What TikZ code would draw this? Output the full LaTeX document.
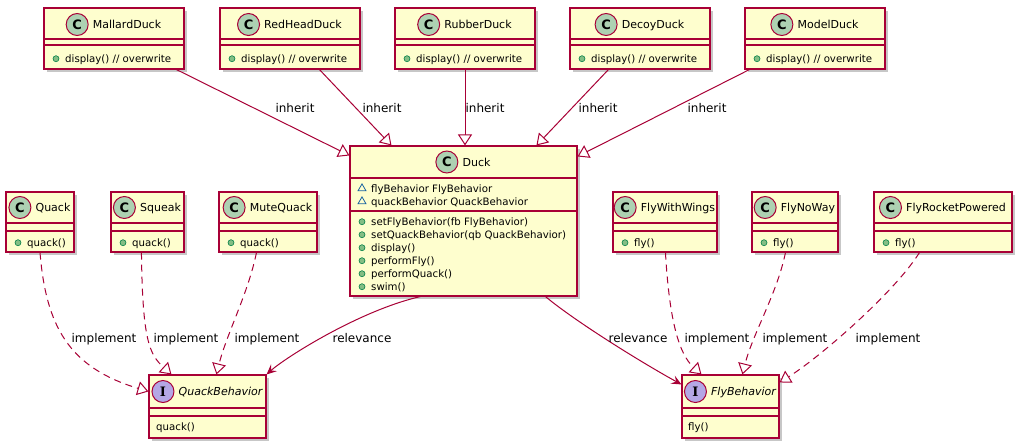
\documentclass[tikz,border=0pt]{standalone}
\usepackage{fontspec}
\setmainfont{DejaVu Sans}
\newfontfamily\serifbf{DejaVu Serif}
\usetikzlibrary{arrows.meta,shadows,fit,calc,shapes.geometric}
\definecolor{umlborder}{HTML}{A80036}
\definecolor{umlfill}{HTML}{FEFECE}
\definecolor{circc}{HTML}{ADD1B2}
\definecolor{circi}{HTML}{B4A7E5}
\definecolor{pubfill}{HTML}{84BE84}
\definecolor{pubborder}{HTML}{038048}
\definecolor{pkgblue}{HTML}{1963A0}
\tikzset{
 cls/.style={draw=umlborder, fill=umlfill, line width=1.1pt, inner sep=0pt,
   drop shadow={shadow xshift=3pt, shadow yshift=-3pt, opacity=0.22, fill=black}},
 sepline/.style={draw=umlborder, line width=1.1pt},
 cname/.style={font=\fontsize{11}{13}\selectfont, inner sep=0pt, anchor=base},
 iname/.style={font=\fontsize{11}{13}\selectfont\itshape, inner sep=0pt, anchor=base},
 circC/.style={circle, draw=umlborder, fill=circc, line width=1pt, minimum size=22pt,
   inner sep=0pt, font=\fontsize{13}{13}\selectfont\bfseries},
 circI/.style={circle, draw=umlborder, fill=circi, line width=1pt, minimum size=22pt,
   inner sep=0pt, font=\serifbf\fontsize{13}{13}\selectfont\bfseries},
 member/.style={font=\fontsize{10.2}{12}\selectfont, inner sep=0pt, anchor=base west},
 pub/.style={circle, draw=pubborder, fill=pubfill, line width=0.6pt, minimum size=6pt, inner sep=0pt},
 pkg/.style={regular polygon, regular polygon sides=3, draw=pkgblue, line width=0.8pt,
   minimum size=9pt, inner sep=0pt},
 lbl/.style={font=\fontsize{12}{14}\selectfont, inner sep=0pt, anchor=base},
 edgeline/.style={draw=umlborder, line width=1pt},
 inh/.style={edgeline, -{Triangle[open, length=11pt, width=14pt, fill=white]}},
 impl/.style={inh, dash pattern=on 7pt off 5pt},
 rel/.style={edgeline, -{Stealth[length=10pt, width=9pt, inset=4pt]}},
}
% class box: name, left, top, right, bottom, sep1, sep2
\newcommand\ucls[7]{%
  \node[cls, fit={(#2,#3) (#4,#5)}] (#1) {};
  \draw[sepline] (#2,#6) -- (#4,#6);
  \draw[sepline] (#2,#7) -- (#4,#7);
}
% header: name, box centre x, header centre y, circle style, letter, title style, title
\newcommand\uhead[7]{%
  \node[#6] (#1-t) at (#2+13,#3+4) {#7};
  \coordinate (#1-cy) at (0,#3);
  \coordinate (#1-tw) at ([xshift=-4pt]#1-t.west);
  \node[#4, anchor=east] (#1-c) at (#1-tw |- #1-cy) {#5};
}
\newcommand\umem[4]{%
  \node[pub] (#1-b) at (#2+12,#3-3.3) {};
  \node[member] (#1) at (#2+21,#3) {#4};
}
\newcommand\ufld[4]{%
  \node[pkg] (#1-b) at (#2+12,#3-3.6) {};
  \node[member] (#1) at (#2+21,#3) {#4};
}
\begin{document}
\begin{tikzpicture}[x=1pt, y=-1pt]
\fill[white] (0,0) rectangle (1019,445);
\useasboundingbox (0,0) rectangle (1019,445);

% top row
\ucls{mallard}{44}{8}{184}{69}{39}{45}
\uhead{mallard}{114}{24.5}{circC}{C}{cname}{MallardDuck}
\umem{mallard-m1}{44}{62}{display() // overwrite}

\ucls{redhead}{220}{8}{360}{69}{39}{45}
\uhead{redhead}{290}{24.5}{circC}{C}{cname}{RedHeadDuck}
\umem{redhead-m1}{220}{62}{display() // overwrite}

\ucls{rubber}{395}{8}{535}{69}{39}{45}
\uhead{rubber}{465}{24.5}{circC}{C}{cname}{RubberDuck}
\umem{rubber-m1}{395}{62}{display() // overwrite}

\ucls{decoy}{570}{8}{710}{69}{39}{45}
\uhead{decoy}{640}{24.5}{circC}{C}{cname}{DecoyDuck}
\umem{decoy-m1}{570}{62}{display() // overwrite}

\ucls{model}{745}{8}{885}{69}{39}{45}
\uhead{model}{815}{24.5}{circC}{C}{cname}{ModelDuck}
\umem{model-m1}{745}{62}{display() // overwrite}

% Duck
\ucls{duck}{350}{146}{577}{296}{178}{211}
\uhead{duck}{463.5}{162}{circC}{C}{cname}{Duck}
\ufld{duck-f1}{350}{192}{flyBehavior FlyBehavior}
\ufld{duck-f2}{350}{205}{quackBehavior QuackBehavior}
\umem{duck-m1}{350}{225}{setFlyBehavior(fb FlyBehavior)}
\umem{duck-m2}{350}{238}{setQuackBehavior(qb QuackBehavior)}
\umem{duck-m3}{350}{251}{display()}
\umem{duck-m4}{350}{264}{performFly()}
\umem{duck-m5}{350}{277}{performQuack()}
\umem{duck-m6}{350}{290}{swim()}

% second row
\ucls{quack}{6}{192}{74}{252}{223}{231}
\uhead{quack}{40}{207.5}{circC}{C}{cname}{Quack}
\umem{quack-m1}{6}{246}{quack()}

\ucls{squeak}{111}{192}{184}{252}{223}{231}
\uhead{squeak}{147.5}{207.5}{circC}{C}{cname}{Squeak}
\umem{squeak-m1}{111}{246}{quack()}

\ucls{mute}{219}{192}{317}{252}{223}{231}
\uhead{mute}{268}{207.5}{circC}{C}{cname}{MuteQuack}
\umem{mute-m1}{219}{246}{quack()}

\ucls{fww}{613}{192}{717}{252}{223}{231}
\uhead{fww}{665}{207.5}{circC}{C}{cname}{FlyWithWings}
\umem{fww-m1}{613}{246}{fly()}

\ucls{fnw}{752}{192}{838}{252}{223}{231}
\uhead{fnw}{795}{207.5}{circC}{C}{cname}{FlyNoWay}
\umem{fnw-m1}{752}{246}{fly()}

\ucls{frp}{874}{192}{1012}{252}{223}{231}
\uhead{frp}{943}{207.5}{circC}{C}{cname}{FlyRocketPowered}
\umem{frp-m1}{874}{246}{fly()}

% interfaces
\ucls{qb}{149}{375}{266}{438}{408}{416}
\uhead{qb}{207.5}{391.5}{circI}{I}{iname}{QuackBehavior}
\node[member] (qb-m1) at (156,430) {quack()};

\ucls{fb}{682}{375}{779}{438}{408}{416}
\uhead{fb}{730.5}{391.5}{circI}{I}{iname}{FlyBehavior}
\node[member] (fb-m1) at (688,430) {fly()};

% inheritance
\draw[inh] ([xshift=133pt]mallard.south west) -- ([yshift=-10pt]duck.north west);
\draw[inh] ([xshift=100pt]redhead.south west) -- ([xshift=42pt]duck.north west);
\draw[inh] (rubber.south) -- (rubber.south |- duck.north);
\draw[inh] ([xshift=39pt]decoy.south west) -- ([xshift=187pt]duck.north west);
\draw[inh] ([xshift=5pt]model.south west) -- ([yshift=-11pt]duck.north east);

% implementations
\draw[impl] (quack.south) .. controls +(6,73) and +(-80,-24) .. ([yshift=-17pt]qb.north west);
\draw[impl] ([xshift=31pt]squeak.south west) .. controls +(1,88) and +(-22,-20) .. ([xshift=23pt]qb.north west);
\draw[impl] ([xshift=38pt]mute.south west) .. controls +(-8,40) and +(10,-40) .. ([xshift=68pt]qb.north west);
\draw[impl] ([xshift=53pt]fww.south west) .. controls +(4,70) and +(-22,-20) .. ([xshift=20pt]fb.north west);
\draw[impl] ([xshift=34pt]fnw.south west) .. controls +(-8,40) and +(10,-40) .. ([xshift=61pt]fb.north west);
\draw[impl] ([xshift=46pt]frp.south west) .. controls +(-25,40) and +(40,-25) .. ([yshift=-8pt]fb.north east);

% relevance
\draw[rel] ([xshift=71pt]duck.south west) .. controls +(-61,14) and +(19,-17) .. (qb.north east);
\draw[rel] ([xshift=196pt]duck.south west) .. controls +(30,25) and +(-40,-22) .. ([yshift=-10pt]fb.north west);

% labels
\node[lbl] (lab-i1) at (295,112.5) {inherit};
\node[lbl] (lab-i2) at (382,112.5) {inherit};
\node[lbl] (lab-i3) at (485,112.5) {inherit};
\node[lbl] (lab-i4) at (598,112.5) {inherit};
\node[lbl] (lab-i5) at (707,112.5) {inherit};
\node[lbl] (lab-m1) at (104,342) {implement};
\node[lbl] (lab-m2) at (186,342) {implement};
\node[lbl] (lab-m3) at (267,342) {implement};
\node[lbl] (lab-m4) at (717,342) {implement};
\node[lbl] (lab-m5) at (795,342) {implement};
\node[lbl] (lab-m6) at (888,342) {implement};
\node[lbl] (lab-r1) at (362,342) {relevance};
\node[lbl] (lab-r2) at (638,342) {relevance};
\end{tikzpicture}
\end{document}
